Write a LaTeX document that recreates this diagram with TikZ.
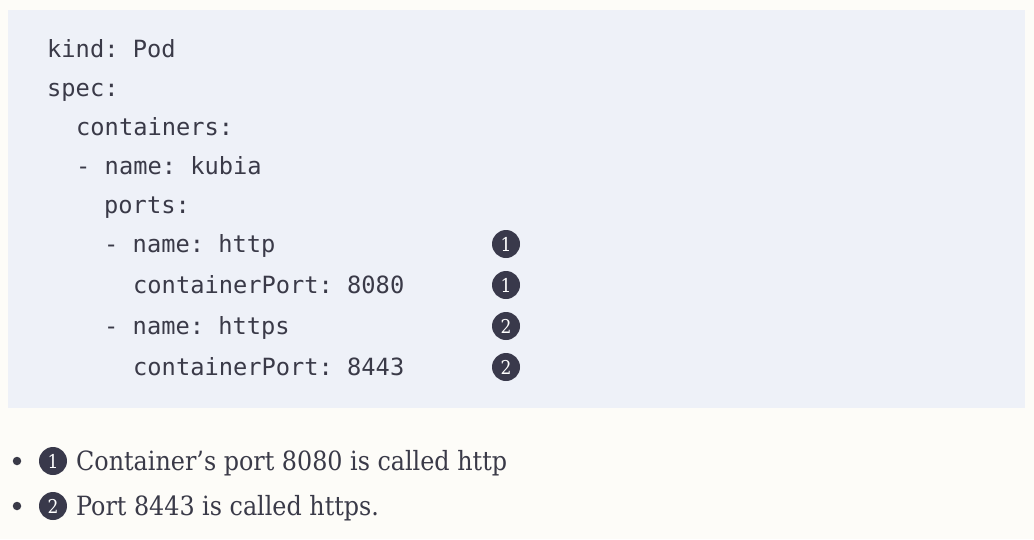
\documentclass[tikz,border=0pt]{standalone}
\usepackage{fontspec}
\setmainfont{DejaVu Serif Condensed}
\setmonofont{DejaVu Sans Mono}
\definecolor{ink}{RGB}{58,58,72}
\definecolor{page}{RGB}{253,252,248}
\definecolor{codebg}{RGB}{238,241,248}
\definecolor{badge}{RGB}{57,57,75}
\tikzset{
  every picture/.style={color=ink, x=1pt, y=-1pt},
  code/.style={anchor=base west, inner sep=0pt, text=ink, font=\fontsize{23.7}{28}\ttfamily},
  callout/.style={circle, fill=badge, text=white, inner sep=0pt, minimum size=28pt, font=\fontsize{19}{22}\selectfont},
  item/.style={anchor=base west, inner sep=0pt, text=ink, font=\fontsize{26.5}{32}\selectfont},
  dot/.style={circle, fill=ink, inner sep=0pt, minimum size=8.5pt},
}
\begin{document}
\begin{tikzpicture}
  \useasboundingbox (0,0) rectangle (1034,539);
  \fill[page] (0,0) rectangle (1034,539);
  \fill[codebg] (8,10) rectangle (1025,408);
  % listing
  \node[code] (kind) at (47,57) {kind: Pod};
  \node[code] (spec) at (47,96) {spec:};
  \node[code] (containers) at (76,135) {containers:};
  \node[code] (kubia) at (76,174) {- name: kubia};
  \node[code] (ports) at (104,213) {ports:};
  \node[code] (http) at (104,252) {- name: http};
  \node[code] (port8080) at (133,293) {containerPort: 8080};
  \node[code] (https) at (104,334) {- name: https};
  \node[code] (port8443) at (133,375) {containerPort: 8443};
  % callouts
  \node[callout] (c1a) at (506,244) {1};
  \node[callout] (c1b) at (506,285) {1};
  \node[callout] (c2a) at (506,326) {2};
  \node[callout] (c2b) at (506,367) {2};
  % list below
  \node[dot] (d1) at (17,461) {};
  \node[callout] (k1) at (53,461) {1};
  \node[item] (t1) at (76,470) {Container’s port 8080 is called http};
  \node[dot] (d2) at (17,506) {};
  \node[callout] (k2) at (53,506) {2};
  \node[item] (t2) at (76,515) {Port 8443 is called https.};
\end{tikzpicture}
\end{document}
